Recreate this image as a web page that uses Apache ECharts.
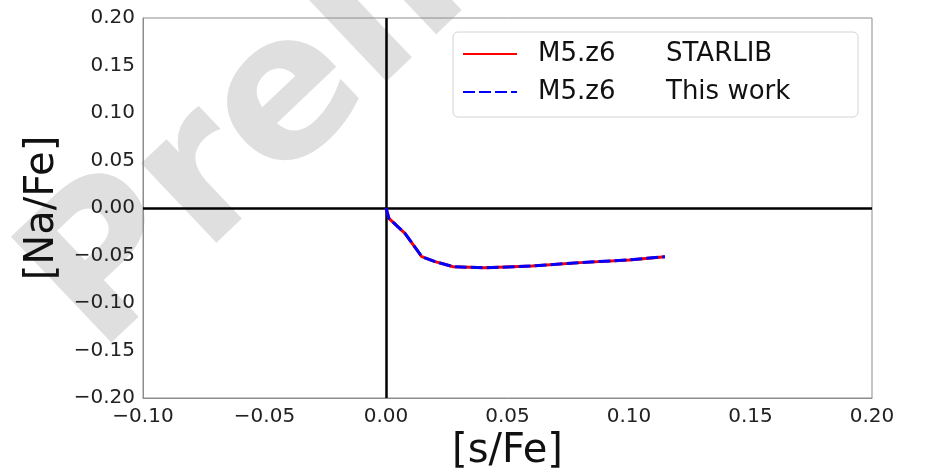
<!DOCTYPE html>
<html>
<head>
<meta charset="utf-8">
<script src="https://cdn.jsdelivr.net/npm/echarts@6/dist/echarts.min.js"></script>
<style>
html,body{margin:0;padding:0;background:#fff;}
#chart{width:925px;height:468px;}
</style>
</head>
<body>
<div id="chart"></div>
<script>
// ---- data ----
const sFe = [0, 0.0012, 0.0078, 0.0147, 0.0202, 0.0277, 0.0407, 0.0600, 0.0798, 0.1000, 0.1148];
const naFeStarlib  = [0, -0.0110, -0.0267, -0.0512, -0.0565, -0.0618, -0.0630, -0.0610, -0.0575, -0.0547, -0.0512];
const naFeThisWork = [0, -0.0110, -0.0267, -0.0512, -0.0565, -0.0618, -0.0630, -0.0610, -0.0575, -0.0547, -0.0512];
const seriesNames = ['M5.z6|STARLIB', 'M5.z6|This work'];
const xTicks = [-0.10, -0.05, 0.00, 0.05, 0.10, 0.15, 0.20];
const yTicks = [-0.20, -0.15, -0.10, -0.05, 0.00, 0.05, 0.10, 0.15, 0.20];
const xLabel = '[s/Fe]';
const yLabel = '[Na/Fe]';
const watermark = 'Preliminary';

const fmt = v => v.toFixed(2).replace('-', '\u2212');
const FONT = 'DejaVu Sans';

const chart = echarts.init(document.getElementById('chart'), null, {renderer: 'canvas'});
chart.setOption({
  animation: false,
  backgroundColor: '#ffffff',
  textStyle: {fontFamily: FONT},
  graphic: [{
    type: 'text',
    x: 131, y: 390,
    rotation: 43.5 * Math.PI / 180,
    z: 0,
    silent: true,
    style: {
      text: watermark,
      font: 'bold 200px "DejaVu Sans"',
      fill: '#dfdfdf',
      verticalAlign: 'bottom',
      align: 'left'
    }
  }],
  grid: {
    left: 143, right: 53, top: 18, bottom: 70,
    outerBoundsMode: 'none',
    containLabel: false,
    show: true, borderColor: '#8c8c8c', borderWidth: 1,
    backgroundColor: 'transparent', z: 1
  },
  legend: {
    left: 453, top: 32,
    orient: 'vertical',
    backgroundColor: '#ffffff',
    borderColor: '#d4d4d4', borderWidth: 1, borderRadius: 5,
    padding: [9, 2, 12, 9],
    itemWidth: 54, itemHeight: 4, itemGap: 12,
    itemStyle: {opacity: 0},
    data: seriesNames,
    formatter: name => {
      const p = name.split('|');
      return '{a|' + p[0] + '}{b|' + p[1] + '}';
    },
    textStyle: {
      rich: {
        a: {fontFamily: FONT, fontSize: 26, color: '#111', width: 128, padding: [0,0,0,16], lineHeight: 30},
        b: {fontFamily: FONT, fontSize: 26, color: '#111', width: 190, lineHeight: 30}
      }
    }
  },
  xAxis: {
    type: 'value', min: -0.1, max: 0.2, interval: 0.05,
    name: xLabel, nameLocation: 'middle', nameGap: 28,
    nameTextStyle: {fontFamily: FONT, fontSize: 40, color: '#111'},
    axisLine: {show: true, onZero: false, lineStyle: {color: '#8c8c8c', width: 1}},
    axisTick: {show: false},
    splitLine: {show: false},
    axisLabel: {formatter: fmt, fontFamily: FONT, fontSize: 20, color: '#222', margin: 9}
  },
  yAxis: {
    type: 'value', min: -0.2, max: 0.2, interval: 0.05,
    name: yLabel, nameLocation: 'middle', nameGap: 68, nameRotate: 90,
    nameTextStyle: {fontFamily: FONT, fontSize: 40, color: '#111'},
    axisLine: {show: true, onZero: false, lineStyle: {color: '#8c8c8c', width: 1}},
    axisTick: {show: false},
    splitLine: {show: false},
    axisLabel: {formatter: fmt, fontFamily: FONT, fontSize: 20, color: '#222', margin: 8}
  },
  series: [
    {
      name: seriesNames[0], type: 'line', z: 3,
      data: sFe.map((x, i) => [x, naFeStarlib[i]]),
      symbol: 'none', smooth: false,
      lineStyle: {color: '#ff0000', width: 3, type: 'solid'},
      itemStyle: {color: '#ff0000'},
      markLine: {
        silent: true, symbol: 'none', label: {show: false},
        lineStyle: {color: '#000', width: 2.5, type: 'solid'},
        data: [{xAxis: 0}, {yAxis: 0}],
        z: 2
      }
    },
    {
      name: seriesNames[1], type: 'line', z: 4,
      data: sFe.map((x, i) => [x, naFeThisWork[i]]),
      symbol: 'none', smooth: false,
      lineStyle: {color: '#0000ff', width: 3, type: [12, 4]},
      itemStyle: {color: '#0000ff'}
    }
  ]
});
</script>
</body>
</html>
